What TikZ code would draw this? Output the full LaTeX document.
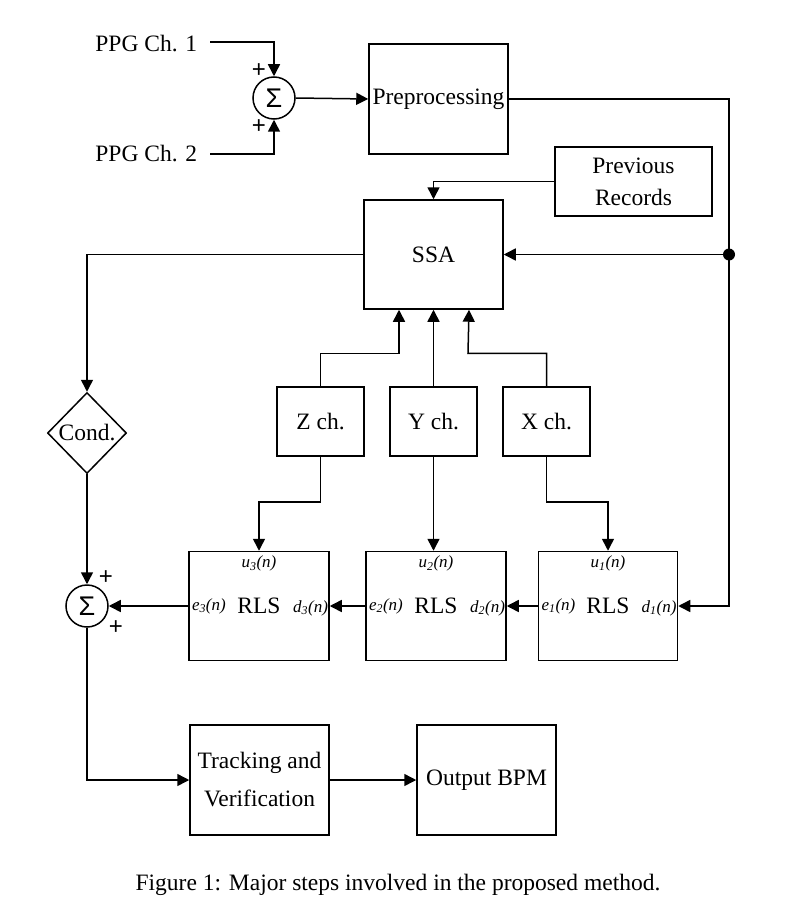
\documentclass[tikz,border=0pt]{standalone}
\usepackage{fontspec}
\setmainfont{Liberation Serif}
\newfontfamily\sumfont{Liberation Sans}
\usetikzlibrary{arrows.meta,shapes.geometric}

\begin{document}
\begin{tikzpicture}[x=1pt,y=-1pt,line width=1.5pt,
  font=\fontsize{23.5}{28}\selectfont,
  >={Triangle[length=12pt,width=12pt]},
  blk/.style={draw,inner sep=0pt,align=center},
  sumnode/.style={draw,circle,minimum size=42pt,inner sep=0pt,font=\sumfont\fontsize{27}{28}\selectfont},
  sgn/.style={font=\sumfont\fontsize{24}{26}\selectfont,inner sep=0pt},
  lbl/.style={font=\itshape\fontsize{17}{19}\selectfont,inner sep=0pt}]
\useasboundingbox (0,0) rectangle (799,923);

% inputs and first adder
\node[anchor=east,inner sep=0pt] (ppg1) at (198,44) {PPG Ch. 1};
\node[anchor=east,inner sep=0pt] (ppg2) at (198,154) {PPG Ch. 2};
\node[sumnode] (s1) at (274,98) {Σ};
\node[sgn] (p1) at (259,71) {+};
\node[sgn] (p2) at (259,127) {+};

% main blocks
\node[blk,minimum width=139pt,minimum height=110pt] (pre) at (438.5,99) {Preprocessing};
\node[blk,minimum width=157pt,minimum height=69pt,
  font=\fontsize{23.5}{32}\selectfont] (prev) at (633.5,181.5) {Previous\\Records};
\node[blk,minimum width=139pt,minimum height=109pt] (ssa) at (433.5,254.5) {SSA};
\node[draw,diamond,minimum width=79pt,minimum height=81pt,inner sep=0pt] (cond) at (87,433) {Cond.};

\node[blk,minimum width=87pt,minimum height=69pt] (zc) at (320.5,421.5) {Z ch.};
\node[blk,minimum width=87pt,minimum height=69pt] (yc) at (433.5,421.5) {Y ch.};
\node[blk,minimum width=87pt,minimum height=69pt] (xc) at (546.5,421.5) {X ch.};

% adaptive filters
\node[blk,minimum width=140pt,minimum height=109pt] (r3) at (259,606) {RLS};
\node[blk,minimum width=140pt,minimum height=109pt] (r2) at (436,606) {RLS};
\node[blk,minimum width=139pt,minimum height=109pt] (r1) at (608,606) {RLS};
\foreach \r/\k in {r3/3,r2/2,r1/1}{
  \node[lbl] (\r u) at ([yshift=-13pt]\r.north) {u\textsubscript{\k}(n)};
  \node[lbl,anchor=west] (\r e) at ([xshift=3pt]\r.west) {e\textsubscript{\k}(n)};
  \node[lbl,anchor=east] (\r d) at ([xshift=-1pt,yshift=-2pt]\r.east) {d\textsubscript{\k}(n)};
}

% second adder and output stages
\node[sumnode] (s2) at (87,606) {Σ};
\node[sgn] (p3) at (106,578) {+};
\node[sgn] (p4) at (116,628) {+};
\node[blk,minimum width=139pt,minimum height=110pt,
  font=\fontsize{23.5}{38}\selectfont] (trk) at (259.5,780) {Tracking and\\Verification};
\node[blk,minimum width=139pt,minimum height=110pt] (bpm) at (486.5,780) {Output BPM};

\fill (729,254.5) circle (6pt) coordinate (jn);

% connectors
\draw[->] (ppg1.east) ++(12,-2) coordinate (a1) -| (s1.north);
\draw[->] (ppg2.east) ++(12,0) coordinate (a2) -| (s1.south);
\draw[->] (s1.east) -- (pre.west);
\draw (pre.east) -| (jn);
\draw[->] (jn) |- (r1.east);
\draw[->] (jn) -- (ssa.east);
\draw[->] (prev.west) -| (ssa.north);
\draw[->] (ssa.west) -| (cond.north);
\draw[->] (cond.south) -- (s2.north);

\draw[->] (zc.north) |- ++(78.5,-33) -- ([xshift=-34.5pt]ssa.south);
\draw[->] (yc.north) -- (ssa.south);
\draw[->] (xc.north) |- ++(-78.5,-33) -- ([xshift=35.5pt]ssa.south);

\draw[->] (zc.south) |- ++(-61.5,45) -- (r3.north);
\draw[->] (yc.south) -- (yc.south |- r2.north);
\draw[->] (xc.south) |- ++(61.5,45) -- (r1.north);

\draw[->] (r1.west) -- (r2.east);
\draw[->] (r2.west) -- (r3.east);
\draw[->] (r3.west) -- (s2.east);
\draw[->] (s2.south) |- (trk.west);
\draw[->] (trk.east) -- (bpm.west);

\node (cap) at (398,885) {Figure 1: Major steps involved in the proposed method.};
\end{tikzpicture}
\end{document}
